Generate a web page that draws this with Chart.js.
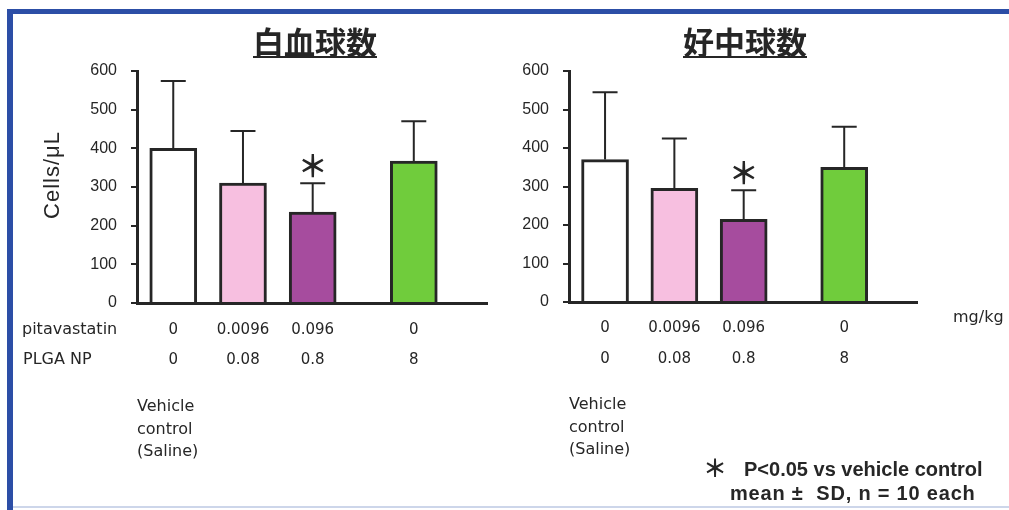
<!DOCTYPE html>
<html>
<head>
<meta charset="utf-8">
<script src="https://cdn.jsdelivr.net/npm/chart.js@4"></script>
<style>
  body { margin: 0; background: #fff; }
  #wrap { position: relative; width: 1009px; height: 510px; overflow: hidden; }
  #frame { position: absolute; left: 7px; top: 9px; width: 1100px; height: 520px;
           border-left: 6px solid #2c4ea6; border-top: 5px solid #2c4ea6; }
  #base { position: absolute; left: 13px; top: 506px; width: 1000px; height: 2px; background: #cdd6ea; }
  canvas { position: absolute; top: 0; }
</style>
</head>
<body>
<div id="wrap">
  <div id="frame"></div>
  <div id="base"></div>
  <canvas id="wbc" width="500" height="510" style="left:0"></canvas>
  <canvas id="neut" width="509" height="510" style="left:500px"></canvas>
</div>
<script>
// dose rows under the bars (mg/kg)
const pitavastatin = ['0', '0.0096', '0.096', '0'];
const plgaNP = ['0', '0.08', '0.8', '8'];
// white blood cells, Cells/uL
const wbcMean = [400, 310, 235, 367];
const wbcSD = [174, 135, 75, 103];
// neutrophils, Cells/uL
const neutMean = [370, 295, 215, 350];
const neutSD = [175, 130, 75, 105];
const significant = [false, false, true, false];

const slots = [0, 1, 2, 3.45]; // bar 4 sits a little apart
const barColors = ['#ffffff', '#f7bfe0', '#a64c9e', '#70cc3c'];
const ink = '#262626';

function makePanel(id, title, mean, sd, opt) {
  const annot = {
    id: 'annot',
    afterDatasetsDraw(chart) {
      const c = chart.ctx, y = chart.scales.y, x = chart.scales.x;
      const bars = chart.getDatasetMeta(0).data;
      c.save();
      c.strokeStyle = ink;
      c.fillStyle = ink;
      c.lineWidth = 2;
      bars.forEach((b, i) => {
        const top = y.getPixelForValue(mean[i] + sd[i]);
        c.beginPath();
        c.moveTo(b.x, b.y);
        c.lineTo(b.x, top);
        c.moveTo(b.x - 12.5, top);
        c.lineTo(b.x + 12.5, top);
        c.stroke();
        if (significant[i]) {
          c.font = 'bold 30px "Noto Sans CJK JP"';
          c.textAlign = 'center';
          c.textBaseline = 'middle';
          c.fillText('＊', b.x, top - 18);
        }
      });

      // title, underlined
      const tx = opt.titleX;
      c.font = 'bold 31px "Noto Sans CJK JP"';
      c.textAlign = 'center';
      c.textBaseline = 'middle';
      c.fillText(title, tx, 42);
      const w = c.measureText(title).width;
      c.fillRect(tx - w / 2, 56, w, 2);

      // y axis title
      if (opt.yTitle) {
        c.save();
        c.translate(53, 175);
        c.rotate(-Math.PI / 2);
        c.font = '22px "Liberation Sans"';
        c.letterSpacing = '1px';
        c.fillText('Cells/μL', 0, 0);
        c.restore();
      }

      // dose rows
      c.font = '15px "DejaVu Sans"';
      slots.forEach((s, i) => {
        const px = x.getPixelForValue(s);
        c.fillText(pitavastatin[i], px, opt.row1);
        c.fillText(plgaNP[i], px, opt.row2);
      });
      c.textAlign = 'left';
      c.font = '16px "DejaVu Sans"';
      if (opt.rowNames) {
        c.fillText('pitavastatin', 22, opt.row1);
        c.fillText('PLGA NP', 23, opt.row2);
      }
      ['Vehicle', 'control', '(Saline)'].forEach((t, k) => {
        c.fillText(t, y.right, opt.veh + k * 22.5);
      });

      if (opt.notes) {
        c.fillText('mg/kg', 453, 318);
        c.font = 'bold 24px "Noto Sans CJK JP"';
        c.fillText('＊', 203, 468);
        c.font = 'bold 20px "Liberation Sans"';
        c.fillText('P<0.05 vs vehicle control', 244, 470);
        c.letterSpacing = '0.8px';
        c.fillText('mean ±  SD, n = 10 each', 230, 494);
      }
      c.restore();
    }
  };

  return new Chart(document.getElementById(id), {
    type: 'bar',
    data: {
      datasets: [{
        data: mean.map((v, i) => ({ x: slots[i], y: v })),
        backgroundColor: barColors,
        borderColor: ink,
        borderWidth: 3,
        borderSkipped: 'start',
        barThickness: 47
      }]
    },
    options: {
      responsive: false,
      animation: false,
      devicePixelRatio: 1,
      layout: { padding: { left: 0, top: 71, right: opt.padRight, bottom: opt.padBottom } },
      plugins: { legend: { display: false }, tooltip: { enabled: false } },
      scales: {
        x: {
          type: 'linear',
          offset: false,
          min: -0.52,
          max: 4.5,
          ticks: { display: false },
          grid: { display: false, offset: false },
          border: { color: ink, width: 3 },
          afterFit: s => { s.height = 0; }
        },
        y: {
          min: 0,
          max: 600,
          ticks: { stepSize: 100, padding: 14, color: ink, font: { family: 'Liberation Sans', size: 16 } },
          grid: { drawOnChartArea: false, drawTicks: true, tickLength: 6, color: ink, lineWidth: 2 },
          border: { color: ink, width: 3 },
          afterFit: s => { s.width = opt.axisX; }
        }
      }
    },
    plugins: [annot]
  });
}

makePanel('wbc', '白血球数', wbcMean, wbcSD, {
  axisX: 137, padRight: 13, padBottom: 207, titleX: 315,
  yTitle: true, rowNames: true, row1: 330, row2: 360, veh: 407, notes: false
});
makePanel('neut', '好中球数', neutMean, neutSD, {
  axisX: 69, padRight: 92, padBottom: 208, titleX: 245,
  yTitle: false, rowNames: false, row1: 328, row2: 359, veh: 405, notes: true
});
</script>
</body>
</html>
